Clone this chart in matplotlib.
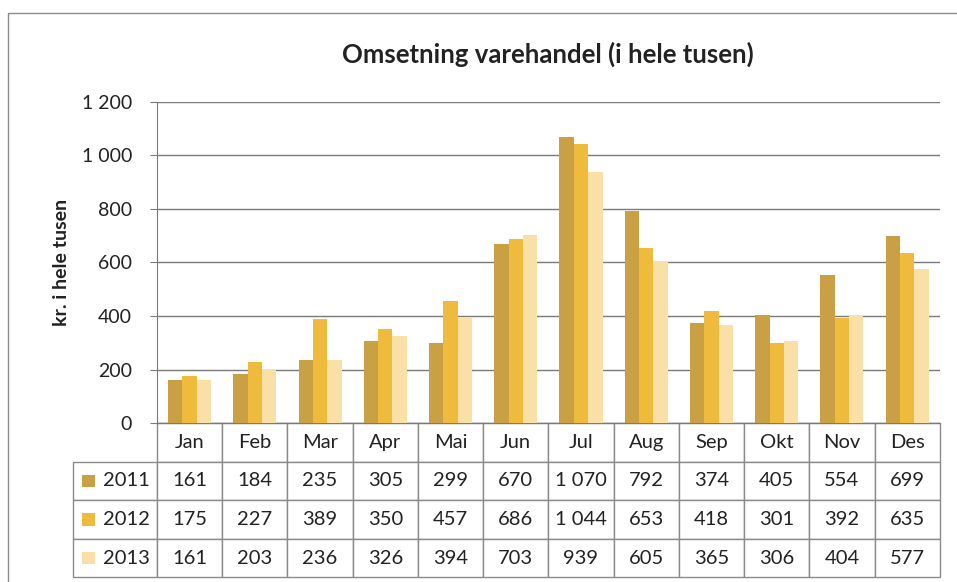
import matplotlib.pyplot as plt
import matplotlib.patches as mpatches
from matplotlib.ticker import FuncFormatter

plt.rcParams["font.family"] = ["Lato", "DejaVu Sans"]

months = ["Jan", "Feb", "Mar", "Apr", "Mai", "Jun", "Jul", "Aug", "Sep", "Okt", "Nov", "Des"]
years = ["2011", "2012", "2013"]
sales_2011 = [161, 184, 235, 305, 299, 670, 1070, 792, 374, 405, 554, 699]
sales_2012 = [175, 227, 389, 350, 457, 686, 1044, 653, 418, 301, 392, 635]
sales_2013 = [161, 203, 236, 326, 394, 703, 939, 605, 365, 306, 404, 577]
colors = ["#c9a044", "#efbb3c", "#f8e0a6"]

series = [sales_2011, sales_2012, sales_2013]


def thousands(v, pos=None):
    return f"{int(v):,}".replace(",", " ")


fig = plt.figure(figsize=(9.57, 5.82), dpi=100)
ax = fig.add_axes([0.164, 0.273, 0.818, 0.552])

# outer chart frame
fig.patches.append(mpatches.Rectangle((8 / 957, -0.1), 1.2, 1.1 - 13 / 582, transform=fig.transFigure,
                                      fill=False, edgecolor="#8c8c8c", linewidth=1.0))

bar_w = 0.22
x = list(range(len(months)))
for i, (vals, col) in enumerate(zip(series, colors)):
    ax.bar([xi + (i - 1) * bar_w for xi in x], vals, width=bar_w, color=col, zorder=3)

ax.set_xlim(-0.5, len(months) - 0.5)
ax.set_ylim(0, 1200)
ax.set_yticks(range(0, 1201, 200))
ax.yaxis.set_major_formatter(FuncFormatter(thousands))
ax.set_xticks([])
ax.grid(axis="y", color="#7a7a7a", linewidth=1.0, zorder=0)
ax.tick_params(axis="y", length=5, color="#7a7a7a", labelsize=14, labelcolor="#222222", pad=13)
for s in ["top", "right"]:
    ax.spines[s].set_visible(False)
ax.spines["left"].set_color("#7a7a7a")
ax.spines["bottom"].set_color("#7a7a7a")

ax.set_ylabel("kr. i hele tusen", fontsize=14, fontweight="bold", color="#222222", labelpad=8)
ax.set_title("Omsetning varehandel (i hele tusen)", fontsize=18.5, fontweight="bold", color="#222222", pad=28)

# data table under the chart; first column holds the year labels
cell_text = [[yr] + [thousands(v) for v in vals] for yr, vals in zip(years, series)]
label_w = 0.107
tb_y0, tb_h = -0.48, 0.48
tbl = ax.table(cellText=cell_text, colLabels=[""] + months, cellLoc="center",
               colWidths=[label_w] + [1 / len(months)] * len(months),
               bbox=[-label_w, tb_y0, 1 + label_w, tb_h])
tbl.auto_set_font_size(False)
tbl.set_fontsize(14.5)
for (r, c), cell in tbl.get_celld().items():
    cell.set_edgecolor("#8a8a8a")
    cell.set_linewidth(1.0)
    cell.get_text().set_color("#222222")
    if c == 0:
        cell.get_text().set_horizontalalignment("right")
        cell.PAD = 0.08
tbl[0, 0].visible_edges = ""

# legend keys in the year column
row_h = tb_h / 4
for k, col in enumerate(colors):
    yc = -row_h * (k + 1) - row_h / 2
    ax.add_patch(mpatches.Rectangle((-0.0958, yc - 0.02), 0.0166, 0.04, transform=ax.transAxes,
                                    facecolor=col, edgecolor="none", clip_on=False, zorder=5))

plt.savefig("out.png", dpi=100)
